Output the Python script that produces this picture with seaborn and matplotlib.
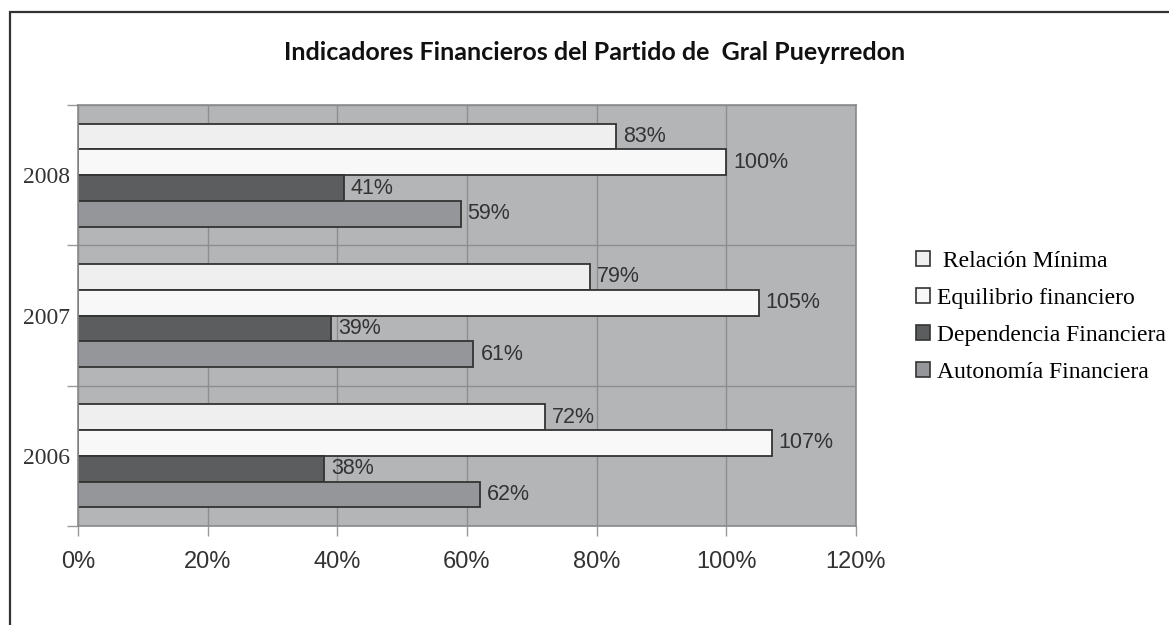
import pandas as pd
import seaborn as sns
import matplotlib.pyplot as plt
from matplotlib.patches import Patch, Rectangle
from matplotlib.ticker import FixedLocator

# Data (percent)
anios = ["2008", "2007", "2006"]
indicadores = [" Relación Mínima", "Equilibrio financiero",
               "Dependencia Financiera", "Autonomía Financiera"]
relacion_minima = [83, 79, 72]
equilibrio = [100, 105, 107]
dependencia = [41, 39, 38]
autonomia = [59, 61, 62]
colores = ["#eeefee", "#f8f8f8", "#5c5d5f", "#959699"]
x_ticks = [0, 20, 40, 60, 80, 100, 120]

df = pd.DataFrame({
    "anio": anios * 4,
    "indicador": [ind for ind in indicadores for _ in anios],
    "valor": relacion_minima + equilibrio + dependencia + autonomia,
})

fig = plt.figure(figsize=(11.69, 6.25), dpi=100)
ax = fig.add_axes([78 / 1169, 1 - 526 / 625, (856 - 78) / 1169, (526 - 105) / 625])
ax.set_facecolor("#b4b5b7")

sns.barplot(data=df, x="valor", y="anio", hue="indicador", order=anios,
            hue_order=indicadores, palette=colores, orient="h", width=0.736,
            edgecolor="#333333", linewidth=1.3, saturation=1, ax=ax)
ax.get_legend().remove()

# value labels
for cont in ax.containers:
    ax.bar_label(cont, fmt="%g%%", padding=5, fontsize=15.5,
                 family="Liberation Sans", color="#333333")

ax.set_xlim(0, 120)
ax.set_ylim(2.5, -0.5)
ax.set_xticks(x_ticks)
ax.set_xticklabels([f"{t}%" for t in x_ticks], fontsize=17,
                   family="Liberation Sans", color="#333333")
ax.set_yticks(range(len(anios)))
ax.set_yticklabels(anios, fontsize=17, family="Liberation Serif", color="#333333")
ax.yaxis.set_minor_locator(FixedLocator([-0.5, 0.5, 1.5, 2.5]))
ax.tick_params(axis="y", which="major", length=0, pad=6)
ax.tick_params(axis="y", which="minor", length=8, color="#999999", width=1)
ax.tick_params(axis="x", length=7, color="#999999", width=1, pad=11)
ax.set_xlabel("")
ax.set_ylabel("")

# grid
ax.set_axisbelow(True)
ax.grid(axis="x", color="#8d8e90", linewidth=1)
ax.grid(axis="y", which="minor", color="#8d8e90", linewidth=1)
for s in ax.spines.values():
    s.set_color("#8a8a8c")
    s.set_linewidth(1.2)

# title
fig.text(0.5086, 1 - 52 / 625,
         "Indicadores Financieros del Partido de  Gral Pueyrredon",
         ha="center", va="center", fontsize=18, fontweight="bold",
         family="Lato", color="#111111")

# legend
handles = [Patch(facecolor=c, edgecolor="#333333", linewidth=1.2) for c in colores]
fig.legend(handles, indicadores, loc="center left",
           bbox_to_anchor=(916 / 1169, 1 - 317 / 625), frameon=False,
           prop={"family": "Liberation Serif", "size": 17},
           handlelength=0.58, handleheight=0.58, handletextpad=0.3,
           labelspacing=0.68, borderpad=0, borderaxespad=0)

# frame around the figure (top and left visible)
fig.add_artist(Rectangle((10 / 1169, -0.2), 1.2, 1.2 - 12 / 625,
                         transform=fig.transFigure, fill=False,
                         edgecolor="#333333", linewidth=1.6))

fig.savefig("out.png", dpi=100)
